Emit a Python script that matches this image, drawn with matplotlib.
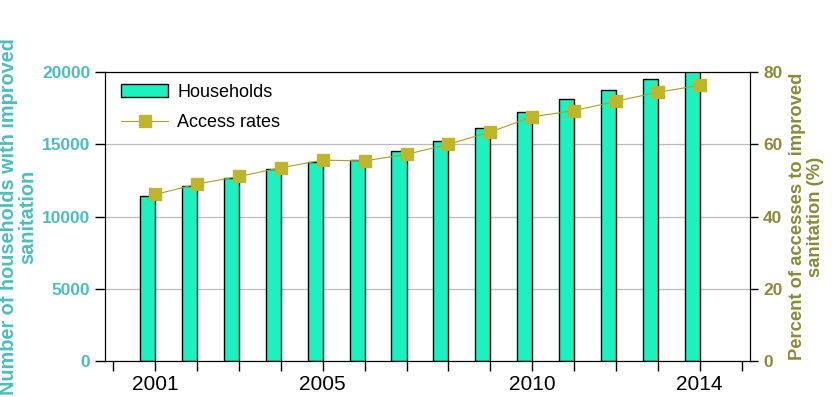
import numpy as np
import matplotlib
matplotlib.use("Agg")
import matplotlib.pyplot as plt
from matplotlib.ticker import FixedLocator

plt.rcParams["font.family"] = ["Liberation Sans", "DejaVu Sans"]

# Data
years = [2001, 2002, 2003, 2004, 2005, 2006, 2007,
         2008, 2009, 2010, 2011, 2012, 2013, 2014]
households = [11450, 12100, 12690, 13290, 13770, 13930, 14550,
              15220, 16120, 17230, 18110, 18750, 19520, 20100]
access_rates = [46.1, 49.0, 51.1, 53.5, 55.6, 55.4, 57.2,
                60.0, 63.4, 67.6, 69.3, 71.9, 74.4, 76.3]
year_labels = ["2001", "2005", "2010", "2014"]

TEAL = "#4DBDBE"
OLIVE = "#8A8A3A"
BAR = "#1CF2C0"
MARK = "#BDB52C"

fig = plt.figure(figsize=(8.32, 3.97), dpi=100)
ax = fig.add_axes([0.1262, 0.0907, 0.7752, 0.7279])

ax.bar(years, households, width=-0.36, align="edge", color=BAR,
       edgecolor="black", linewidth=1.0, label="Households", zorder=2)
ax.set_xlim(1999.8, 2015.2)
ax.set_ylim(0, 20000)
ax.set_yticks([0, 5000, 10000, 15000, 20000])
ax.yaxis.grid(True, color="#bbbbbb", linewidth=0.9, zorder=0)
ax.set_axisbelow(True)

ax.xaxis.set_major_locator(FixedLocator(range(2000, 2016)))
ax.set_xticklabels(["" if str(y) not in year_labels else str(y)
                    for y in range(2000, 2016)])
ax.tick_params(axis="x", direction="out", length=7, width=1,
               labelsize=15, pad=3)
ax.tick_params(axis="y", direction="out", length=7, width=1,
               labelsize=12.5, labelcolor=TEAL)
for t in ax.get_yticklabels():
    t.set_fontweight("bold")

ax.set_ylabel("Number of households with improved\nsanitation",
              color=TEAL, fontsize=14.3, fontweight="bold", labelpad=3,
              linespacing=1.0)
ax.yaxis.set_label_coords(-0.105, 0.5)

ax2 = ax.twinx()
ax2.plot(years, access_rates, color="#a8a030", linewidth=0.8,
         marker="s", markersize=8, markerfacecolor=MARK,
         markeredgecolor=MARK, label="Access rates", zorder=3)
ax2.set_ylim(0, 80)
ax2.set_yticks([0, 20, 40, 60, 80])
ax2.tick_params(axis="y", direction="out", length=6, width=1,
                labelsize=12.5, labelcolor=OLIVE)
for t in ax2.get_yticklabels():
    t.set_fontweight("bold")
ax2.set_ylabel("Percent of accesses to improved\nsanitation (%)",
               color=OLIVE, fontsize=13.2, fontweight="bold", labelpad=5,
               linespacing=1.05)

h1, l1 = ax.get_legend_handles_labels()
h2, l2 = ax2.get_legend_handles_labels()
ax.legend(h1 + h2, l1 + l2, loc="upper left", frameon=False,
          fontsize=13, handlelength=2.6, labelspacing=0.75,
          handletextpad=0.5, bbox_to_anchor=(0.0, 1.015))

fig.savefig("out.png", dpi=100)
